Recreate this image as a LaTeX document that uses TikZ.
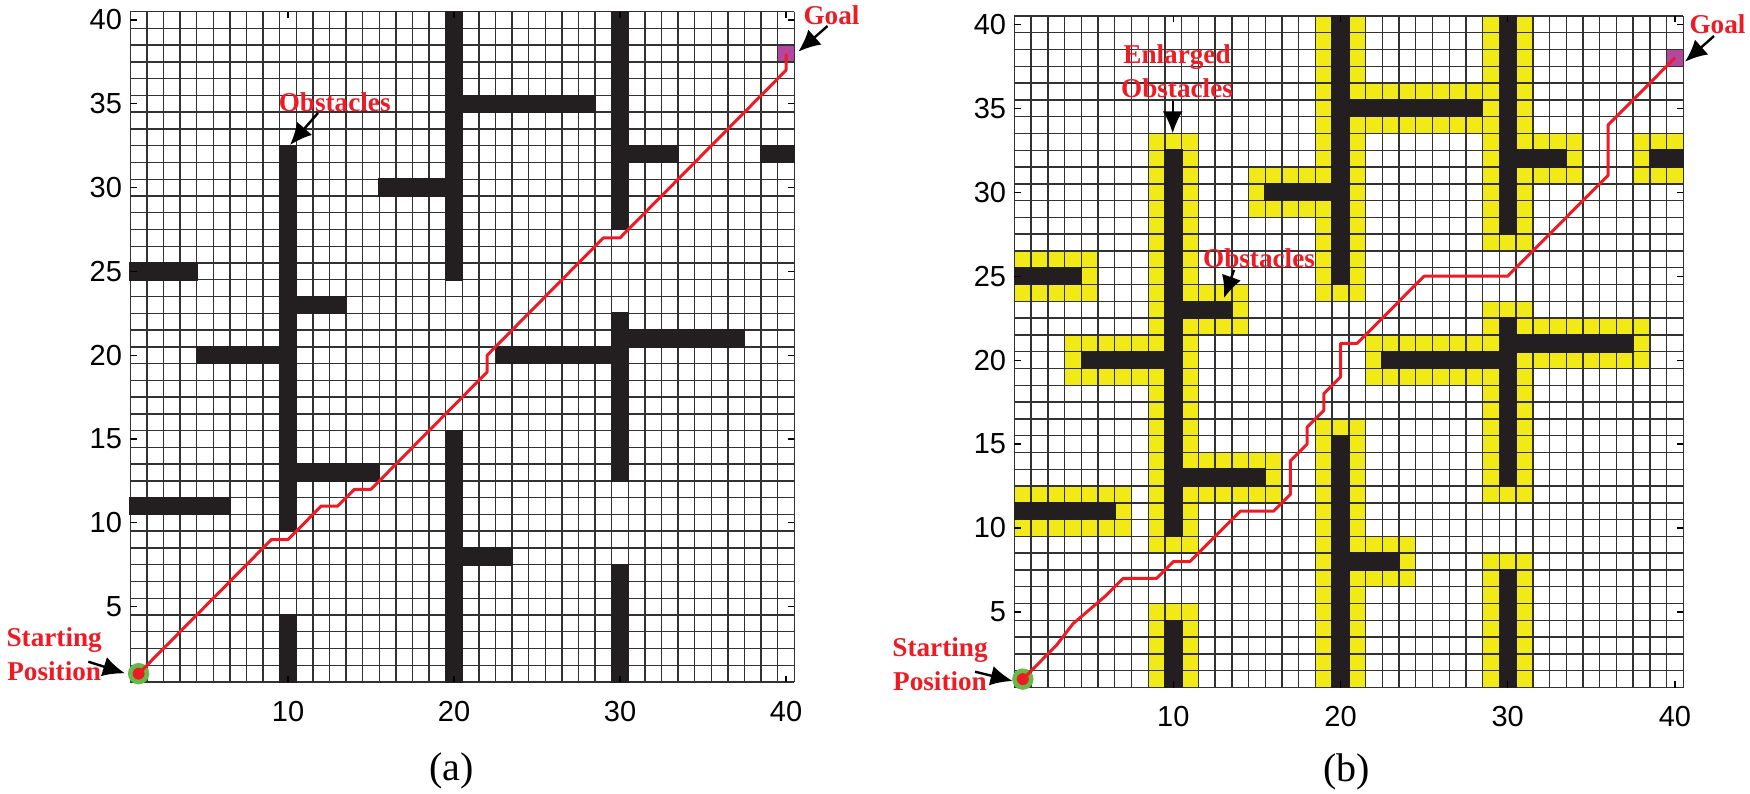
\documentclass[tikz,border=0pt]{standalone}
\usepackage{fontspec}
\setmainfont{Liberation Serif}
\newfontfamily\lsans{Liberation Sans}
\usetikzlibrary{arrows.meta}
\definecolor{gridgray}{RGB}{50,50,50}
\definecolor{obsblack}{RGB}{35,31,32}
\definecolor{enlyellow}{RGB}{242,234,22}
\definecolor{pathred}{RGB}{237,28,36}
\definecolor{startgreen}{RGB}{104,186,72}
\definecolor{goalmag}{RGB}{180,72,158}
\tikzset{
  gridline/.style={draw=gridgray, line width=0.7pt},
  obst/.style={fill=obsblack},
  enl/.style={fill=enlyellow},
  goalcell/.style={fill=goalmag},
  pathline/.style={draw=pathred, line width=1.5pt, line join=round},
  startring/.style={circle, fill=startgreen, minimum size=10.7pt, inner sep=0pt},
  startdot/.style={circle, fill=pathred, minimum size=6pt, inner sep=0pt},
  lbl/.style={text=pathred, font=\bfseries\fontsize{13.6}{16.7}\selectfont, inner sep=0pt, align=center},
  pointer/.style={draw=black, line width=1.2pt, -{Latex[length=11pt,width=10pt]}},
  ticklbl/.style={font=\lsans\fontsize{14.5}{14.5}\selectfont, inner sep=0pt},
  tickmark/.style={draw=black, line width=0.6pt},
  captionlbl/.style={font=\fontsize{20}{20}\selectfont, inner sep=0pt}
}
\def\obstacles{10/10/10/32, 10/10/1/4, 1/4/25/25, 11/13/23/23, 5/9/20/20, 11/15/13/13, 1/6/11/11, 20/20/25/40, 21/28/35/35, 16/19/30/30, 20/20/1/15, 21/23/8/8, 30/30/28/40, 31/33/32/32, 39/40/32/32, 23/29/20/20, 30/30/13/22, 31/37/21/21, 30/30/1/7}
\begin{document}
\begin{tikzpicture}[x=0.5pt,y=-0.5pt]
\useasboundingbox (0,0) rectangle (1750,793);

% ---------------- panel (a) ----------------
\begin{scope}[shift={(61pt,-345.2pt)}, x=8.3pt, y=8.38pt]
  \fill[goalcell] (39.5,37.5) rectangle (40.5,38.5);
  \foreach \i in {0,...,40} {
    \draw[gridline] (\i+0.5,0.5) -- (\i+0.5,40.5);
    \draw[gridline] (0.5,\i+0.5) -- (40.5,\i+0.5);
  }
  \foreach \a/\b/\c/\d in \obstacles {
    \fill[obst] (\a-0.55,\c-0.55) rectangle (\b+0.55,\d+0.55);
  }
  \foreach \t in {5,10,...,40} {
    \draw[tickmark] (0.5,\t) -- (0.88,\t);
    \draw[tickmark] (40.5,\t) -- (40.12,\t);
    \node[ticklbl, anchor=east] (ya\t) at (0.02,\t) {\t};
  }
  \foreach \t in {10,20,30,40} {
    \draw[tickmark] (\t,0.5) -- (\t,0.88);
    \draw[tickmark] (\t,40.5) -- (\t,40.12);
    \node[ticklbl] (xa\t) at (\t,-1.27) {\t};
  }
  \node[startring] (sA) at (1,1) {};
  \coordinate (gA) at (40,38);
  \draw[pathline] (sA.center) -- (9,9) -- (10,9) -- (12,11) -- (13,11) -- (14,12) -- (15,12) -- (16,13) -- (22,19) -- (22,20) -- (29,27) -- (30,27) -- (40,37) -- (gA);
  \node[startdot] (sAdot) at (1,1) {};
\end{scope}

% ---------------- panel (b) ----------------
\begin{scope}[shift={(503.05pt,-347.95pt)}, x=8.36pt, y=8.395pt]
  \begin{scope}
    \clip (0.5,0.5) rectangle (40.5,40.5);
    \foreach \a/\b/\c/\d in \obstacles {
      \fill[enl] (\a-1.5,\c-1.5) rectangle (\b+1.5,\d+1.5);
    }
  \end{scope}
  \fill[goalcell] (39.5,37.5) rectangle (40.5,38.5);
  \foreach \i in {0,...,40} {
    \draw[gridline] (\i+0.5,0.5) -- (\i+0.5,40.5);
    \draw[gridline] (0.5,\i+0.5) -- (40.5,\i+0.5);
  }
  \foreach \a/\b/\c/\d in \obstacles {
    \fill[obst] (\a-0.55,\c-0.55) rectangle (\b+0.55,\d+0.55);
  }
  \foreach \t in {5,10,...,40} {
    \draw[tickmark] (0.5,\t) -- (0.88,\t);
    \draw[tickmark] (40.5,\t) -- (40.12,\t);
    \node[ticklbl, anchor=east] (yb\t) at (0.02,\t) {\t};
  }
  \foreach \t in {10,20,30,40} {
    \draw[tickmark] (\t,0.5) -- (\t,0.88);
    \draw[tickmark] (\t,40.5) -- (\t,40.12);
    \node[ticklbl] (xb\t) at (\t,-1.24) {\t};
  }
  \node[startring] (sB) at (1,1) {};
  \coordinate (gB) at (40,38);
  \draw[pathline] (sB.center) -- (3,3) -- (4,4.3) -- (6,6) -- (7,7) -- (9,7) -- (10,8) -- (11,8) -- (14,11) -- (16,11) -- (17,12) -- (17,14) -- (18,15) -- (18,16) -- (19,17) -- (19,18) -- (20,19) -- (20,21) -- (21,21) -- (25,25) -- (30,25) -- (36,31) -- (36,34) -- (gB);
  \node[startdot] (sBdot) at (1,1) {};
\end{scope}

% ---------------- labels (a) ----------------
\node[lbl] (obsA) at (334.7,102) {Obstacles};
\coordinate (obsAtail) at (318,113);
\coordinate (obsAtip) at (290,145);
\draw[pointer] (obsAtail) -- (obsAtip);

\node[lbl] (goalA) at (831.5,15) {Goal};
\coordinate (goalAtail) at (827.5,26);
\coordinate (goalAtip) at (798.3,51.7);
\draw[pointer] (goalAtail) -- (goalAtip);

\node[lbl, anchor=north] (startA) at (54.2,627.5) {Starting\\Position};
\coordinate (startAtail) at (88.3,661.7);
\coordinate (startAtip) at (125,673.3);
\draw[pointer] (startAtail) -- (startAtip);

\node[captionlbl] (capA) at (451.7,771) {(a)};

% ---------------- labels (b) ----------------
\node[lbl, anchor=north] (enlB) at (1177,44.5) {Enlarged\\Obstacles};
\coordinate (enlBtail) at (1172.7,101);
\coordinate (enlBtip) at (1172.7,133.3);
\draw[pointer] (enlBtail) -- (enlBtip);

\node[lbl] (obsB) at (1259,258) {Obstacles};
\coordinate (obsBtail) at (1234,270);
\coordinate (obsBtip) at (1224,298);
\draw[pointer] (obsBtail) -- (obsBtip);

\node[lbl] (goalB) at (1717.5,24) {Goal};
\coordinate (goalBtail) at (1714,36);
\coordinate (goalBtip) at (1685,61.7);
\draw[pointer] (goalBtail) -- (goalBtip);

\node[lbl, anchor=north] (startB) at (940,637.5) {Starting\\Position};
\coordinate (startBtail) at (975,671.7);
\coordinate (startBtip) at (1012.7,681);
\draw[pointer] (startBtail) -- (startBtip);

\node[captionlbl] (capB) at (1346.7,772) {(b)};
\end{tikzpicture}
\end{document}
